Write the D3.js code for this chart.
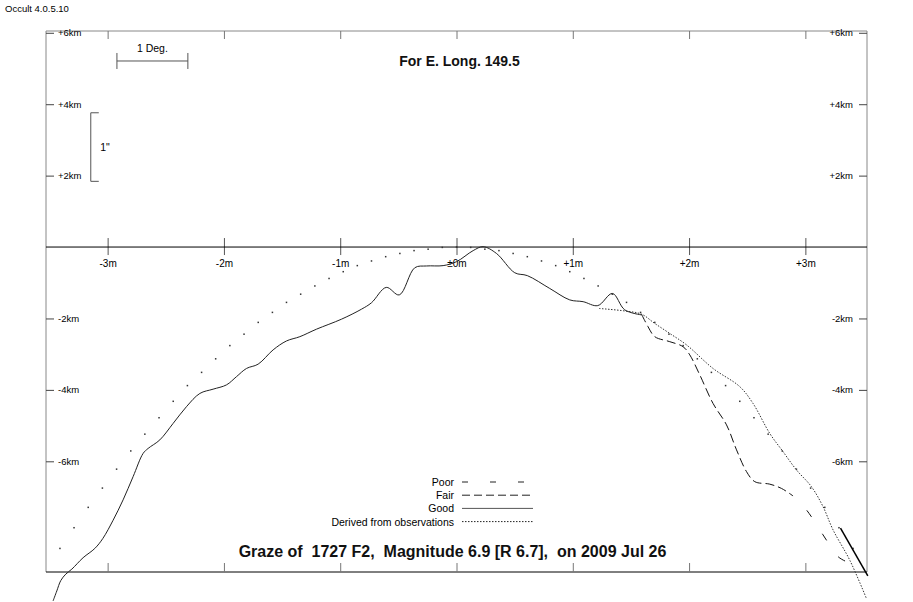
<!DOCTYPE html>
<html>
<head>
<meta charset="utf-8">
<script src="https://cdn.jsdelivr.net/npm/d3@7"></script>
<style>
  body { margin: 0; background: #fff; }
  svg { display: block; font-family: "Liberation Sans", Arial, sans-serif; }
</style>
</head>
<body>
<svg id="chart" width="913" height="602"></svg>
<script>
// axis ticks
var minuteTicks = [-3, -2, -1, 0, 1, 2, 3];
var minuteLabels = ['-3m', '-2m', '-1m', '\u00b10m', '+1m', '+2m', '+3m'];
var kmTicks = [6, 4, 2, -2, -4, -6];
var kmLabels = ['+6km', '+4km', '+2km', '-2km', '-4km', '-6km'];

// mean limb (dots)
var limbMin = [-3.410, -3.289, -3.167, -3.045, -2.923, -2.801, -2.680, -2.558, -2.436, -2.314,
  -2.192, -2.071, -1.949, -1.827, -1.705, -1.583, -1.462, -1.340, -1.218, -1.096,
  -0.974, -0.853, -0.731, -0.609, -0.487, -0.365, -0.244, -0.122, 0,
  0.122, 0.244, 0.365, 0.487, 0.609, 0.731, 0.853, 0.974, 1.096, 1.218,
  1.340, 1.462, 1.583, 1.705, 1.827, 1.949, 2.071, 2.192, 2.314, 2.436,
  2.558, 2.680, 2.801, 2.923, 3.045, 3.167, 3.289, 3.410];
var limbKm = [-8.44, -7.86, -7.29, -6.75, -6.22, -5.71, -5.24, -4.78, -4.32, -3.88,
  -3.51, -3.13, -2.76, -2.44, -2.11, -1.83, -1.55, -1.32, -1.09, -0.88,
  -0.69, -0.52, -0.39, -0.27, -0.18, -0.10, -0.06, -0.01, 0,
  -0.01, -0.06, -0.10, -0.18, -0.27, -0.39, -0.52, -0.69, -0.88, -1.09,
  -1.32, -1.55, -1.83, -2.11, -2.44, -2.76, -3.13, -3.51, -3.88, -4.32,
  -4.78, -5.24, -5.71, -6.22, -6.75, -7.29, -7.86, -8.44];

// profile, good
var goodMin = [-3.469, -3.437, -3.403, -3.360, -3.308, -3.211, -3.110, -3.041, -2.953, -2.867,
  -2.781, -2.695, -2.652, -2.551, -2.437, -2.322, -2.207, -2.093, -1.978, -1.892,
  -1.806, -1.706, -1.577, -1.462, -1.347, -1.204, -0.989, -0.817, -0.731, -0.604,
  -0.492, -0.359, -0.258, -0.115, 0, 0.143, 0.229, 0.344, 0.501, 0.609,
  0.802, 0.974, 1.089, 1.215, 1.341, 1.447, 1.591];
var goodKm = [-9.91, -9.63, -9.34, -9.16, -9.02, -8.70, -8.44, -8.16, -7.65, -7.08,
  -6.43, -5.78, -5.64, -5.40, -4.94, -4.47, -4.10, -3.98, -3.86, -3.63,
  -3.40, -3.28, -2.88, -2.63, -2.51, -2.30, -2.02, -1.74, -1.56, -1.13,
  -1.34, -0.58, -0.53, -0.52, -0.41, -0.10, 0.01, -0.18, -0.72, -0.80,
  -1.16, -1.48, -1.53, -1.64, -1.30, -1.76, -1.90];
var goodTailMin = [3.302, 3.537];
var goodTailKm = [-7.87, -9.21];

// profile, fair
var fairMin = [1.591, 1.647, 1.705, 1.834, 1.948, 2.006, 2.092, 2.206, 2.322, 2.408,
  2.494, 2.565, 2.694, 2.795, 2.894];
var fairKm = [-1.88, -2.23, -2.51, -2.65, -2.79, -3.02, -3.58, -4.38, -4.98, -5.68,
  -6.29, -6.57, -6.64, -6.76, -6.97];

// profile, poor
var poorMin = [2.894, 3.009, 3.152, 3.281, 3.353];
var poorKm = [-6.97, -7.36, -8.06, -8.67, -8.81];

// derived from observations
var derivedMin = [1.226, 1.447, 1.591, 1.705, 1.834, 1.978, 2.206, 2.436, 2.550, 2.694,
  2.808, 2.923, 3.052, 3.152, 3.238, 3.382, 3.525];
var derivedKm = [-1.72, -1.79, -1.88, -2.14, -2.42, -2.74, -3.40, -3.91, -4.38, -5.22,
  -5.73, -6.24, -6.71, -7.27, -7.92, -8.77, -9.84];

var legendNames = ['Poor', 'Fair', 'Good', 'Derived from observations'];
var legendDash = ['6,22', '8,4', null, '1.5,1.5'];

var titleText = 'For E. Long. 149.5';
var footText = 'Graze of  1727 F2,  Magnitude 6.9 [R 6.7],  on 2009 Jul 26';

var svg = d3.select('#chart');
var plotLeft = 46, plotRight = 867, plotTop = 31, plotBottom = 572;

var x = d3.scaleLinear().domain([-3.53, 3.53]).range([plotLeft, plotRight]);
var y = d3.scaleLinear().domain([6.05, -9.1]).range([plotTop, plotBottom]);

function zipPts(ms, ks) {
  return ms.map(function(m, i) { return [m, ks[i]]; });
}

svg.append('text')
  .attr('x', 5).attr('y', 12)
  .attr('font-size', 9.5)
  .text('Occult 4.0.5.10');

// frame
svg.append('path')
  .attr('d', 'M' + plotLeft + ',' + plotBottom + 'V' + plotTop + 'H' + plotRight + 'V' + plotBottom)
  .attr('fill', 'none').attr('stroke', '#888');
svg.append('line')
  .attr('x1', plotLeft).attr('x2', plotRight)
  .attr('y1', plotBottom).attr('y2', plotBottom)
  .attr('stroke', '#000');

// minute axis on the zero line
var xAxis = svg.append('g')
  .attr('transform', 'translate(0,' + y(0) + ')')
  .call(d3.axisBottom(x).tickValues(minuteTicks).tickSize(8)
    .tickFormat(function(d, i) { return minuteLabels[i]; }));
xAxis.select('.domain').remove();
xAxis.selectAll('.tick line').attr('y1', -9).attr('y2', 8).attr('stroke', '#555');
xAxis.selectAll('.tick text')
  .attr('y', 20).attr('dy', 0)
  .attr('font-size', 10).attr('fill', '#000');
svg.append('line')
  .attr('x1', plotLeft).attr('x2', plotRight)
  .attr('y1', y(0)).attr('y2', y(0))
  .attr('stroke', '#000');

// minute ticks at top and bottom of frame
var xTop = svg.append('g')
  .attr('transform', 'translate(0,' + plotTop + ')')
  .call(d3.axisBottom(x).tickValues(minuteTicks).tickSize(8).tickFormat(''));
xTop.select('.domain').remove();
xTop.selectAll('.tick line').attr('stroke', '#777');
var xBot = svg.append('g')
  .attr('transform', 'translate(0,' + plotBottom + ')')
  .call(d3.axisTop(x).tickValues(minuteTicks).tickSize(9).tickFormat(''));
xBot.select('.domain').remove();
xBot.selectAll('.tick line').attr('stroke', '#777');

// km axes
var yLeft = svg.append('g')
  .attr('transform', 'translate(' + plotLeft + ',0)')
  .call(d3.axisRight(y).tickValues(kmTicks).tickSize(8).tickPadding(4)
    .tickFormat(function(d, i) { return kmLabels[i]; }));
yLeft.select('.domain').remove();
var yRight = svg.append('g')
  .attr('transform', 'translate(' + plotRight + ',0)')
  .call(d3.axisLeft(y).tickValues(kmTicks).tickSize(8).tickPadding(6)
    .tickFormat(function(d, i) { return kmLabels[i]; }));
yRight.select('.domain').remove();
svg.selectAll('g').attr('font-family', null);
[yLeft, yRight].forEach(function(g) {
  g.selectAll('.tick line').attr('stroke', '#444');
  g.selectAll('.tick text').attr('font-size', 9.5).attr('fill', '#000');
});

// scale indicators
var degFrom = -2.92, degTo = -2.31, degAt = 5.21;
var arcTop = 3.76, arcBottom = 1.84, arcAt = -3.145;
var scaleG = svg.append('g').attr('stroke', '#555').attr('fill', 'none');
scaleG.append('path')
  .attr('d', 'M' + x(degFrom) + ',' + (y(degAt) - 8) + 'v16' +
    'M' + x(degFrom) + ',' + y(degAt) + 'H' + x(degTo) +
    'M' + x(degTo) + ',' + (y(degAt) - 8) + 'v16');
scaleG.append('path')
  .attr('d', 'M' + (x(arcAt) + 8) + ',' + y(arcTop) + 'H' + x(arcAt) +
    'V' + y(arcBottom) + 'H' + (x(arcAt) + 8));
svg.append('text')
  .attr('x', (x(degFrom) + x(degTo)) / 2).attr('y', y(degAt) - 9)
  .attr('text-anchor', 'middle').attr('font-size', 10.5)
  .text('1 Deg.');
svg.append('text')
  .attr('x', x(arcAt) + 9.5).attr('y', (y(arcTop) + y(arcBottom)) / 2 + 4)
  .attr('font-size', 10.5)
  .text('1"');

// mean limb dots
svg.append('g').selectAll('rect')
  .data(zipPts(limbMin, limbKm))
  .join('rect')
  .attr('x', function(d) { return x(d[0]) - 0.75; })
  .attr('y', function(d) { return y(d[1]) - 0.75; })
  .attr('width', 1.5).attr('height', 1.5)
  .attr('fill', '#333');

var line = d3.line()
  .x(function(d) { return x(d[0]); })
  .y(function(d) { return y(d[1]); })
  .curve(d3.curveCatmullRom.alpha(0.5));

svg.append('path')
  .datum(zipPts(derivedMin, derivedKm))
  .attr('d', line)
  .attr('fill', 'none').attr('stroke', '#333')
  .attr('stroke-dasharray', '1.5,1.5');

svg.append('path')
  .datum(zipPts(goodMin, goodKm))
  .attr('d', line)
  .attr('fill', 'none').attr('stroke', '#222');

svg.append('path')
  .datum(zipPts(fairMin, fairKm))
  .attr('d', line)
  .attr('fill', 'none').attr('stroke', '#111')
  .attr('stroke-dasharray', '9,4');

svg.append('path')
  .datum(zipPts(poorMin, poorKm))
  .attr('d', line)
  .attr('fill', 'none').attr('stroke', '#111')
  .attr('stroke-dasharray', '8,20').attr('stroke-dashoffset', 8);

svg.append('path')
  .datum(zipPts(goodTailMin, goodTailKm))
  .attr('d', d3.line().x(function(d) { return x(d[0]); }).y(function(d) { return y(d[1]); }))
  .attr('fill', 'none').attr('stroke', '#000').attr('stroke-width', 1.5);

// legend
var legend = svg.append('g').attr('transform', 'translate(0,482)');
var rows = legend.selectAll('g')
  .data(legendNames)
  .join('g')
  .attr('transform', function(d, i) { return 'translate(0,' + (i * 13.2) + ')'; });
rows.append('text')
  .attr('x', 454).attr('y', 4)
  .attr('text-anchor', 'end').attr('font-size', 10.5)
  .text(function(d) { return d; });
rows.append('line')
  .attr('x1', 462).attr('x2', 533)
  .attr('stroke', function(d, i) { return i === 2 ? '#555' : '#222'; })
  .attr('stroke-dasharray', function(d, i) { return legendDash[i]; });

// titles
svg.append('text')
  .attr('x', 459.5).attr('y', 66)
  .attr('text-anchor', 'middle')
  .attr('font-size', 14).attr('font-weight', 'bold').attr('fill', '#111')
  .text(titleText);
svg.append('text')
  .attr('x', 452.5).attr('y', 557)
  .attr('text-anchor', 'middle')
  .attr('font-size', 16).attr('font-weight', 'bold').attr('fill', '#111')
  .style('white-space', 'pre')
  .text(footText);
</script>
</body>
</html>
